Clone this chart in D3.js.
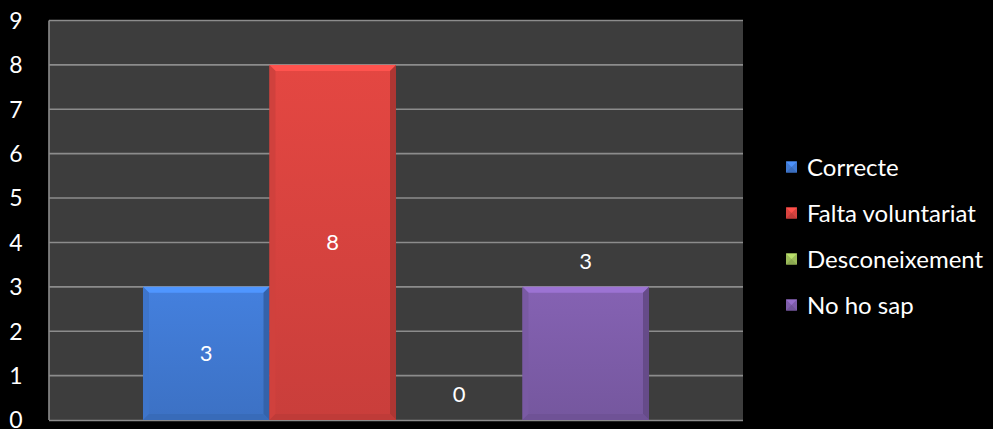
<!DOCTYPE html>
<html>
<head>
<meta charset="utf-8">
<script src="https://cdn.jsdelivr.net/npm/d3@7"></script>
<style>
html,body{margin:0;padding:0;background:#000;}
svg{display:block;}
</style>
</head>
<body>
<svg id="chart" width="993" height="429"></svg>
<script>
const series = ["Correcte", "Falta voluntariat", "Desconeixement", "No ho sap"];
const values = [3, 8, 0, 3];
const colors = ["#4079d2", "#d8433f", "#9bbb59", "#7e5daa"];
const labelMode = ["center", "center", "outside", "outside"];
const yTicks = [0, 1, 2, 3, 4, 5, 6, 7, 8, 9];

const W = 993, H = 429;
const plot = {left: 49, right: 743, top: 20.5, bottom: 420};
const font = "Lato, 'Open Sans', sans-serif";

const svg = d3.select("#chart");
const defs = svg.append("defs");

const y = d3.scaleLinear().domain([0, 9]).range([plot.bottom, plot.top]);
const x = d3.scaleBand().domain(series).range([plot.left, plot.right]).paddingInner(0).paddingOuter(0.743);

svg.append("rect").attr("width", W).attr("height", H).attr("fill", "#000");
svg.append("rect")
  .attr("x", plot.left).attr("y", plot.top)
  .attr("width", plot.right - plot.left).attr("height", plot.bottom - plot.top)
  .attr("fill", "#3d3d3d");

// gridlines
svg.append("g").selectAll("line").data(yTicks.filter(d => d > 0)).join("line")
  .attr("x1", plot.left).attr("x2", plot.right)
  .attr("y1", d => y(d)).attr("y2", d => y(d))
  .attr("stroke", "#8c8c8c").attr("stroke-width", 1.6);

// left axis line & bottom
svg.append("line").attr("x1", plot.left).attr("x2", plot.left)
  .attr("y1", plot.top).attr("y2", plot.bottom)
  .attr("stroke", "#8c8c8c").attr("stroke-width", 1.6);
svg.append("line").attr("x1", plot.left).attr("x2", plot.right)
  .attr("y1", plot.bottom + 0.5).attr("y2", plot.bottom + 0.5)
  .attr("stroke", "#8c8c8c").attr("stroke-width", 1.6);

// y tick labels
svg.append("g").selectAll("text").data(yTicks).join("text")
  .attr("x", 16).attr("y", d => y(d))
  .attr("dy", "0.36em")
  .attr("text-anchor", "middle")
  .attr("fill", "#fff")
  .attr("font-family", font).attr("font-size", 23)
  .text(d => d);

// gradients
colors.forEach((c, i) => {
  const g = defs.append("linearGradient").attr("id", "grad" + i)
    .attr("x1", 0).attr("y1", 0).attr("x2", 0).attr("y2", 1);
  g.append("stop").attr("offset", 0).attr("stop-color", d3.color(c).brighter(0.15));
  g.append("stop").attr("offset", 1).attr("stop-color", d3.color(c).darker(0.2));
});

const bev = 6;
const bars = svg.append("g").selectAll("g").data(series).join("g");
bars.each(function(s, i) {
  const g = d3.select(this);
  const x0 = x(s), x1 = x(s) + x.bandwidth();
  const y0 = y(values[i]), y1 = y(0);
  const h = y1 - y0;
  if (h <= 0) return;
  const b = Math.min(bev, h / 2);
  g.append("rect").attr("x", x0).attr("y", y0).attr("width", x1 - x0).attr("height", h)
    .attr("fill", `url(#grad${i})`);
  const c = d3.color(colors[i]);
  g.append("path").attr("d", `M${x0},${y0}L${x1},${y0}L${x1 - b},${y0 + b}L${x0 + b},${y0 + b}Z`)
    .attr("fill", c.brighter(0.6));
  g.append("path").attr("d", `M${x0},${y0}L${x0 + b},${y0 + b}L${x0 + b},${y1 - b}L${x0},${y1}Z`)
    .attr("fill", c.darker(0.1));
  g.append("path").attr("d", `M${x1},${y0}L${x1},${y1}L${x1 - b},${y1 - b}L${x1 - b},${y0 + b}Z`)
    .attr("fill", c.darker(0.6));
  g.append("path").attr("d", `M${x0},${y1}L${x1},${y1}L${x1 - b},${y1 - b}L${x0 + b},${y1 - b}Z`)
    .attr("fill", c.darker(0.35));
});

// value labels
svg.append("g").selectAll("text").data(series).join("text")
  .attr("x", s => x(s) + x.bandwidth() / 2)
  .attr("y", (s, i) => labelMode[i] === "center" ? (y(values[i]) + y(0)) / 2 : y(values[i]) - 26)
  .attr("dy", "0.36em")
  .attr("text-anchor", "middle")
  .attr("fill", "#fff")
  .attr("font-family", font).attr("font-size", 22)
  .text((s, i) => values[i]);

// legend
const leg = svg.append("g").selectAll("g").data(series).join("g")
  .attr("transform", (s, i) => `translate(786,${167 + i * 46})`);
leg.each(function(s, i) {
  const g = d3.select(this);
  const c = d3.color(colors[i]);
  const sz = 11, hs = sz / 2;
  g.append("rect").attr("x", 0).attr("y", -hs).attr("width", sz).attr("height", sz).attr("fill", c);
  g.append("path").attr("d", `M0,${-hs}L${sz},${-hs}L${hs},0Z`).attr("fill", c.brighter(0.5));
  g.append("path").attr("d", `M0,${hs}L${sz},${hs}L${hs},0Z`).attr("fill", c.darker(0.3));
  g.append("text").attr("x", 21).attr("y", 0).attr("dy", "0.36em")
    .attr("fill", "#fff").attr("font-family", font).attr("font-size", 24)
    .text(s);
});
</script>
</body>
</html>
